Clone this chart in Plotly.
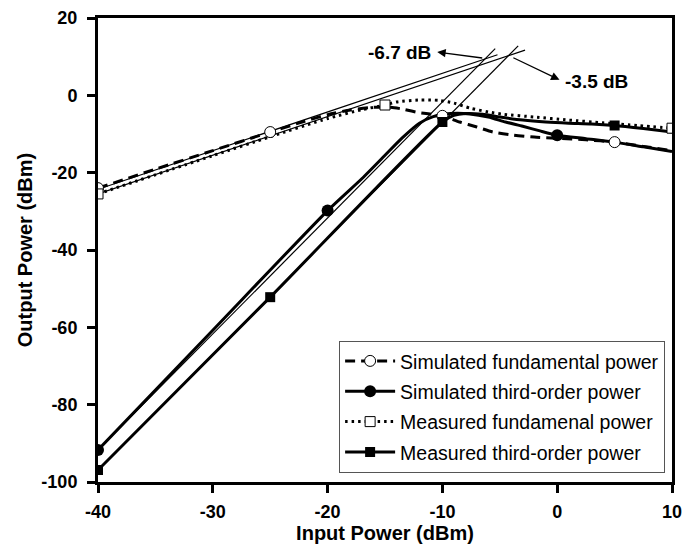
import plotly.graph_objects as go

# ---------------- data ----------------
# Simulated fundamental power (dashed, open circles)
sim_fund_x = [-40, -35, -30, -25, -22, -20, -18, -16, -14.5, -13.4, -12, -10, -8.5, -7, -5.6, -3.8, -2, 0, 2.5, 5, 7.5, 10]
sim_fund_y = [-24, -19.1, -14.3, -9.5, -6.7, -5.0, -3.8, -3.1, -3.1, -3.6, -4.5, -5.3, -6.9, -8.2, -9.5, -10.3, -10.8, -11.1, -11.5, -12.1, -13.2, -14.3]
sim_fund_marker_x = [-40, -25, -10, 5]

# Simulated third-order power (solid, filled circles)
sim_third_x = [-40, -30, -20, -17, -15, -13.5, -12, -10.8, -9.3, -7.6, -6, -4.5, -3, -1.5, 0, 2.5, 5, 7.5, 10]
sim_third_y = [-91.7, -60.75, -29.8, -21.5, -15.5, -11.0, -7.2, -5.5, -4.7, -4.8, -5.6, -6.9, -8.0, -9.2, -10.3, -11.2, -12.1, -13.3, -14.5]
sim_third_marker_x = [-40, -20, 0]

# Measured fundamental power (dotted, open squares)
meas_fund_x = [-40, -30, -25, -20, -17, -15, -14, -12, -10.3, -9, -7.6, -6, -4.7, -2, 1, 4, 7, 10]
meas_fund_y = [-25.5, -15.6, -10.7, -6.0, -3.7, -2.5, -1.7, -1.2, -1.3, -2.0, -3.3, -4.3, -4.9, -5.6, -6.4, -7.1, -7.8, -8.5]
meas_fund_marker_x = [-40, -15, 10]

# Measured third-order power (solid, filled squares)
meas_third_x = [-40, -25, -10, -9, -8, -6.5, -5, -3, -1, 1, 3, 5, 7.5, 10]
meas_third_y = [-96.9, -52.2, -6.9, -5.2, -4.7, -4.9, -5.6, -6.4, -6.9, -7.2, -7.4, -7.8, -8.6, -9.5]
meas_third_marker_x = [-40, -25, -10, 5]

# Thin extrapolation lines (end points)
ext_x = [[-40, -5.2], [-40, -2.8], [-40, -5.4], [-40, -3.4]]
ext_y = [[-24.3, 10.5], [-25.5, 11.7], [-91.7, 12.1], [-97.0, 12.8]]

# Intercept-point annotations: label, label position, arrow head, arrow tail
ip_labels = ["-6.7 dB", "-3.5 dB"]
ip_label_x = [-13.7, 3.4]
ip_label_y = [11.2, 3.6]
ip_head_x = [-10.45, 0.2]
ip_head_y = [11.2, 4.0]
ip_tail_x = [-6.4, -3.95]
ip_tail_y = [9.6, 9.9]

x_ticks = [-40, -30, -20, -10, 0, 10]
x_tick_text = ["-40", "-30", "-20", "-10", "0", "10"]
y_ticks = [-100, -80, -60, -40, -20, 0, 20]
y_tick_text = ["-100", "-80", "-60", "-40", "-20", "0", "20"]

series_names = [
    "Simulated fundamental power",
    "Simulated third-order power",
    "Measured fundamenal power",
    "Measured third-order power",
]

# ---------------- figure ----------------
FONT = "Liberation Sans, Arial, Helvetica, sans-serif"
PAGE = 8  # default body margin of the html page
fig = go.Figure()

for xs, ys in zip(ext_x, ext_y):
    fig.add_trace(go.Scatter(x=xs, y=ys, mode="lines", showlegend=False,
                             line=dict(color="black", width=1.2), hoverinfo="skip"))

series = [
    (sim_fund_x, sim_fund_y, sim_fund_marker_x, dict(color="black", width=3, dash="10px,6px"),
     dict(symbol="circle", size=11, color="white", line=dict(color="black", width=1))),
    (sim_third_x, sim_third_y, sim_third_marker_x, dict(color="black", width=3),
     dict(symbol="circle", size=12, color="black", line=dict(color="black", width=0))),
    (meas_fund_x, meas_fund_y, meas_fund_marker_x, dict(color="black", width=3, dash="2.5px,4px"),
     dict(symbol="square", size=10, color="white", line=dict(color="black", width=1))),
    (meas_third_x, meas_third_y, meas_third_marker_x, dict(color="black", width=3),
     dict(symbol="square", size=10, color="black", line=dict(color="black", width=0))),
]

for (xs, ys, mx, ln, mk), name in zip(series, series_names):
    fig.add_trace(go.Scatter(x=xs, y=ys, mode="lines", showlegend=False,
                             line=dict(shape="spline", smoothing=0.6, **ln)))

for (xs, ys, mx, ln, mk), name in zip(series, series_names):
    lookup = dict(zip(xs, ys))
    fig.add_trace(go.Scatter(x=mx, y=[lookup[v] for v in mx], mode="markers",
                             showlegend=False, marker=mk))

for i, ((xs, ys, mx, ln, mk), name) in enumerate(zip(series, series_names)):
    fig.add_trace(go.Scatter(x=[None], y=[None], mode="lines+markers", name=name,
                             legendgroup=f"g{i}", line=ln, marker=mk))

for i in range(2):
    fig.add_annotation(x=ip_head_x[i], y=ip_head_y[i], ax=ip_tail_x[i], ay=ip_tail_y[i],
                       xref="x", yref="y", axref="x", ayref="y", text="",
                       showarrow=True, arrowhead=2, arrowsize=1.3, arrowwidth=1.3,
                       arrowcolor="black", standoff=0, startstandoff=0)
    fig.add_annotation(x=ip_label_x[i], y=ip_label_y[i], xref="x", yref="y",
                       text=ip_labels[i], showarrow=False,
                       font=dict(family=FONT, size=19, color="black", weight="bold"))

axis_common = dict(showgrid=False, zeroline=False, showline=True, linecolor="black",
                   linewidth=3, mirror=True, ticks="outside", ticklen=8, tickwidth=3,
                   tickcolor="black", automargin=False,
                   tickfont=dict(family=FONT, size=18, color="black", weight="bold"))

fig.update_layout(
    template="none",
    width=694 - PAGE, height=547 - PAGE,
    margin=dict(l=98 - PAGE, r=22, t=18 - PAGE, b=65, pad=0),
    paper_bgcolor="white", plot_bgcolor="white",
    font=dict(family=FONT, color="black"),
    xaxis=dict(range=[-40, 10], tickvals=x_ticks, ticktext=x_tick_text,
               ticklabelstandoff=3,
               title=dict(text="Input Power (dBm)", standoff=5,
                          font=dict(family=FONT, size=20, color="black", weight="bold")),
               **axis_common),
    yaxis=dict(range=[-100, 20], tickvals=y_ticks, ticktext=y_tick_text,
               ticklabelstandoff=6,
               title=dict(text="Output Power (dBm)", standoff=4,
                          font=dict(family=FONT, size=20, color="black", weight="bold")),
               **axis_common),
    legend=dict(x=0.988, xanchor="right", y=0.02, yanchor="bottom",
                bgcolor="white", bordercolor="#555", borderwidth=1,
                font=dict(family=FONT, size=19.5, color="black"),
                itemwidth=50, tracegroupgap=2),
    showlegend=True,
)

fig.write_html("out.html")
